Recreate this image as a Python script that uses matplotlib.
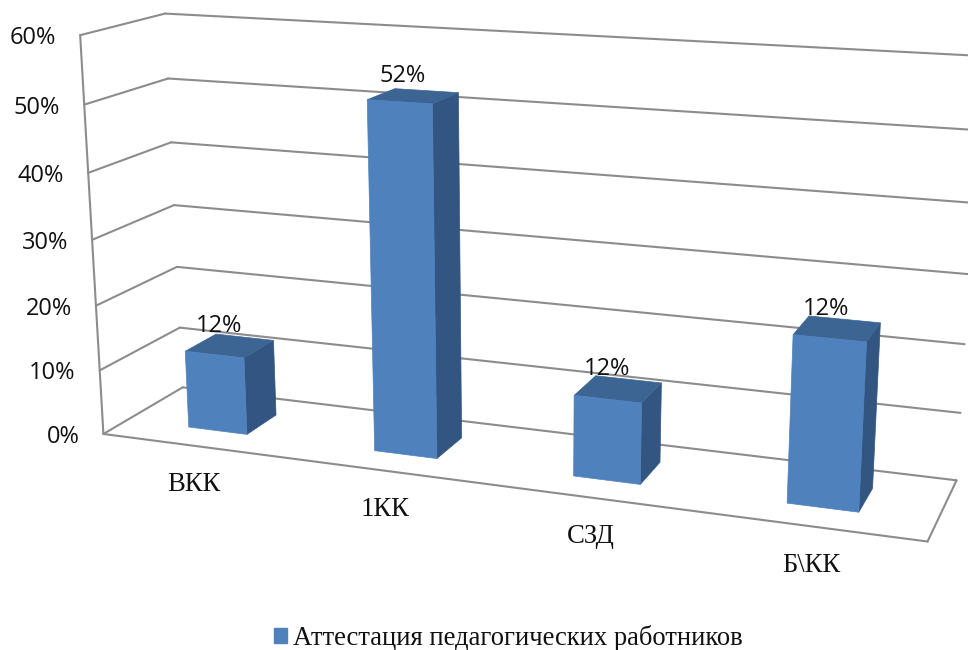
import numpy as np
import matplotlib
matplotlib.use("Agg")
import matplotlib.pyplot as plt
from matplotlib.patches import Polygon, Patch

categories = ["ВКК", "1КК", "СЗД", "Б\\КК"]
values = [12, 52, 12, 24]
value_labels = ["12%", "52%", "12%", "12%"]
yticks = [0, 10, 20, 30, 40, 50, 60]
series_name = "Аттестация педагогических работников"

grid_col = "#8c8c8c"
front_col = "#4f81bd"
top_col = "#3d6594"
side_col = "#335581"

# camera for the fake 3d: (category pos, value, depth) -> pixels
CAMERA = np.array([
    [175.2731697817159, -0.45671237865041486, 91.96790199199683, 103.42210475030633],
    [8.930526620986717, -6.67685194598605, -19.532100271783428, 433.9670544555254],
    [-0.03315938991590257, -0.0008625767774424313, 0.06982349451538794, 1.0],
])


def project(u, v, w):
    q = CAMERA @ np.array([u, v, w, 1.0])
    return q[0] / q[2], q[1] / q[2]


def face(ax, corners, color):
    ax.add_patch(Polygon([project(*c) for c in corners], closed=True, facecolor=color,
                         edgecolor=color, linewidth=0.5, zorder=3))


def line3d(ax, a, b, lw=1.5):
    pa, pb = project(*a), project(*b)
    ax.plot([pa[0], pb[0]], [pa[1], pb[1]], color=grid_col, lw=lw, zorder=2,
            solid_capstyle="round")


fig, ax = plt.subplots(figsize=(9.68, 6.5), dpi=100)
fig.subplots_adjust(0, 0, 1, 1)
ax.set_xlim(0, 968)
ax.set_ylim(650, 0)
ax.axis("off")

n = len(categories)

# walls and floor
line3d(ax, (0, yticks[0], 0), (0, yticks[-1], 0))
for t in yticks:
    line3d(ax, (0, t, 0), (0, t, 1))
    line3d(ax, (0, t, 1), (n, t, 1))
    x, y = project(0, t, 0)
    ax.text(x - 24, y + 3, "%d%%" % t, ha="right", va="center", family="Open Sans",
            fontsize=17, color="#111111", zorder=5)
line3d(ax, (0, 0, 0), (n, 0, 0))
line3d(ax, (n, 0, 0), (n, 0, 1))

# bars, back faces never show so only side, top and front
half = 0.16
d0, d1 = 0.3, 0.7
for i, (cat, val, lab) in enumerate(zip(categories, values, value_labels)):
    c = i + 0.5
    l, r = c - half, c + half
    face(ax, [(r, 0, d0), (r, 0, d1), (r, val, d1), (r, val, d0)], side_col)
    face(ax, [(l, val, d0), (r, val, d0), (r, val, d1), (l, val, d1)], top_col)
    face(ax, [(l, 0, d0), (r, 0, d0), (r, val, d0), (l, val, d0)], front_col)

    x, y = project(c, val, 0.5)
    ax.text(x - 11, y - 20, lab, ha="center", va="center", family="Open Sans",
            fontsize=17, color="#111111", zorder=5)

    x, y = project(c, 0, 0)
    ax.text(x, y + 39, cat, ha="center", va="center", family="Liberation Serif",
            fontsize=19.3, color="#111111", zorder=5)

handle = Patch(facecolor=front_col, edgecolor=front_col, label=series_name)
ax.legend(handles=[handle], loc="center", bbox_to_anchor=(508.5 / 968, 1 - 638 / 650), frameon=False,
          prop={"family": "Liberation Serif", "size": 19.2}, handlelength=0.5, handleheight=0.5,
          handletextpad=0.22, borderpad=0, labelcolor="#111111")

fig.savefig("out.png", dpi=100)
